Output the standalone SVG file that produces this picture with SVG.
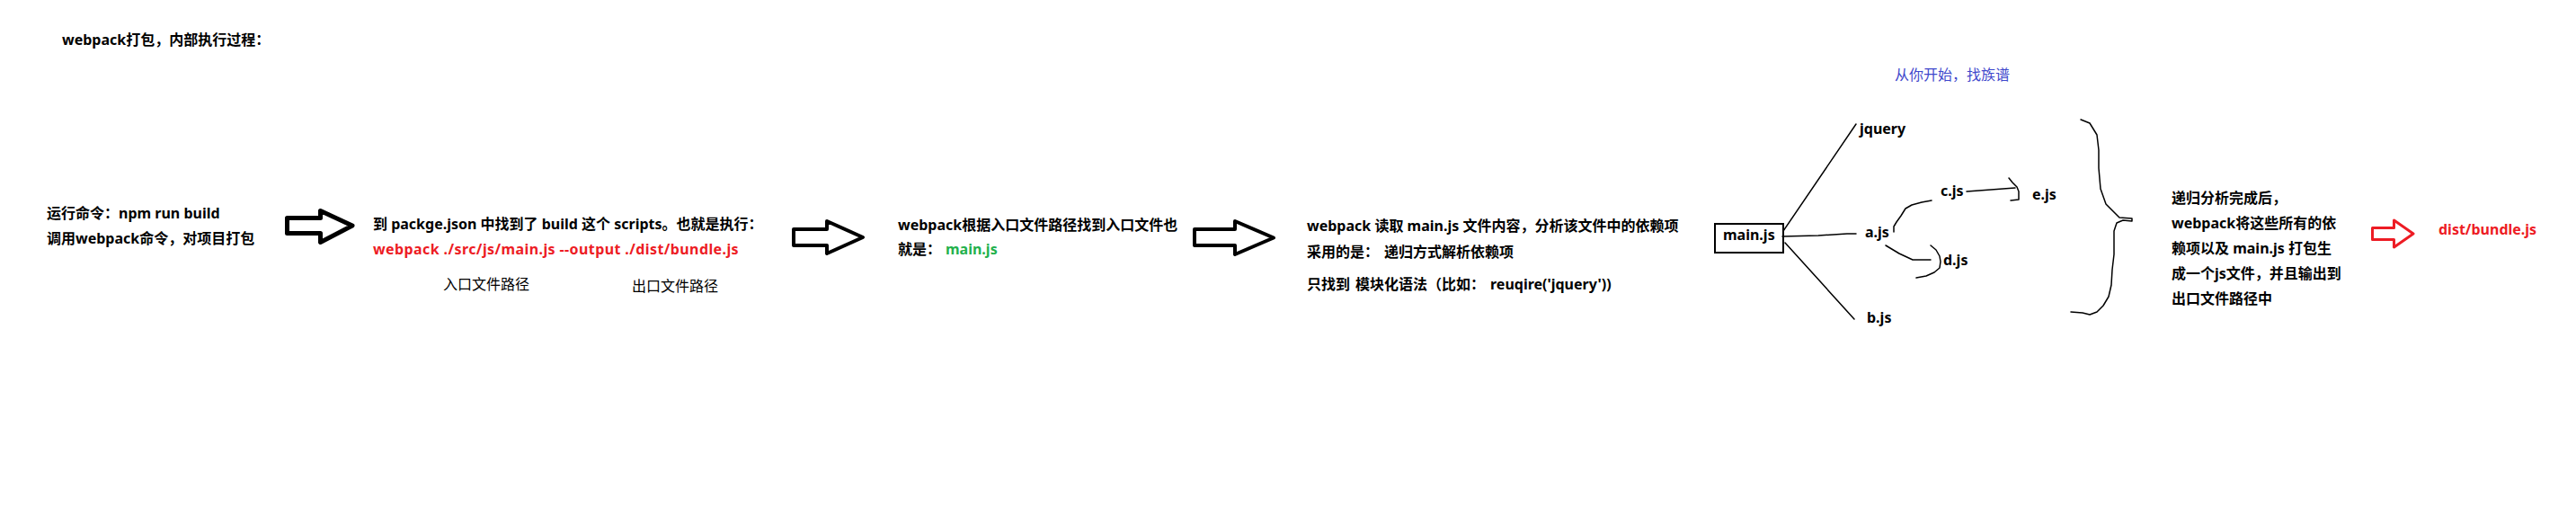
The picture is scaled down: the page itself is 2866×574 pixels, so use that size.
<svg xmlns="http://www.w3.org/2000/svg" width="2866" height="574" viewBox="0 0 2866 574">
<style>
.t{font-family:"Noto Sans","Noto Sans CJK SC",sans-serif;font-size:16px;font-weight:bold;fill:#000}
.n{font-weight:normal}
.red{fill:#ED1C24}
.green{fill:#22B14C}
.blue{fill:#3F48CC}
.arr{fill:#fff;stroke:#000;stroke-linejoin:round}
.ln{fill:none;stroke:#000;stroke-width:1.5;stroke-linejoin:round;stroke-linecap:round}
</style>
<rect width="2866" height="574" fill="#fff"/>
<g id="title"><text class="t" x="69" y="50">webpack打包，内部执行过程：</text></g>
<g id="step1">
<text class="t" x="52" y="243">运行命令：npm run build</text>
<text class="t" x="52" y="271">调用webpack命令，对项目打包</text>
</g>
<g id="step2">
<text class="t" x="415" y="255">到 packge.json 中找到了 build 这个 scripts。也就是执行：</text>
<text class="t red" x="415" y="283" letter-spacing="0.4">webpack ./src/js/main.js --output ./dist/bundle.js</text>
<text class="t n" x="493" y="322">入口文件路径</text>
<text class="t n" x="703" y="324">出口文件路径</text>
</g>
<g id="step3">
<text class="t" x="999" y="256">webpack根据入口文件路径找到入口文件也</text>
<text class="t" x="999" y="283">就是：<tspan class="green" x="1052">main.js</tspan></text>
</g>
<g id="step4">
<text class="t" x="1454" y="257">webpack 读取 main.js 文件内容，分析该文件中的依赖项</text>
<text class="t" x="1454" y="286">采用的是：<tspan x="1540">递归方式解析依赖项</tspan></text>
<text class="t" x="1454" y="322">只找到<tspan x="1508">模块化语法（比如：</tspan><tspan x="1658">reuqire('jquery'))</tspan></text>
</g>
<g id="tree-caption"><text class="t n blue" x="2108" y="89">从你开始，找族谱</text></g>
<g id="main-js">
<rect x="1908" y="249" width="76" height="32" fill="none" stroke="#000" stroke-width="2"/>
<text class="t" x="1917" y="267">main.js</text>
</g>
<g id="jquery"><text class="t" x="2069" y="149">jquery</text></g>
<g id="a-js"><text class="t" x="2075" y="264">a.js</text></g>
<g id="b-js"><text class="t" x="2077" y="359">b.js</text></g>
<g id="c-js"><text class="t" x="2159" y="218">c.js</text></g>
<g id="d-js"><text class="t" x="2162" y="295">d.js</text></g>
<g id="e-js"><text class="t" x="2261" y="222">e.js</text></g>
<g id="step5">
<text class="t" x="2416" y="226">递归分析完成后，</text>
<text class="t" x="2416" y="254">webpack将这些所有的依</text>
<text class="t" x="2416" y="282">赖项以及 main.js 打包生</text>
<text class="t" x="2416" y="310">成一个js文件，并且输出到</text>
<text class="t" x="2416" y="338">出口文件路径中</text>
</g>
<g id="output"><text class="t red" x="2713" y="261">dist/bundle.js</text></g>
<g id="connectors">
<path class="arr" stroke-width="5" d="M319.5,242.5 H356.5 V234.5 L392,251 L356.5,269.5 V259.5 H319.5 Z"/>
<path class="arr" stroke-width="4" d="M883,255 H920 V246 L960,264 L920,282 V273 H883 Z"/>
<path class="arr" stroke-width="4" d="M1329,255 H1374 V246 L1417,264.5 L1374,283 V273 H1329 Z"/>
<path class="arr" stroke-width="3" style="stroke:#ED1C24" d="M2639.5,253.5 H2663.5 V245 L2685,260 L2663.5,275 V266.5 H2639.5 Z"/>
<polyline class="ln" points="1984,257 2065,138"/>
<polyline class="ln" points="1983,263 2023,262 2055,260 2065,260"/>
<polyline class="ln" points="1986,270 2063,355"/>
<polyline class="ln" points="2107,258 2107,252 2110,247 2115,240 2120,232 2127,228 2138,225 2149,223"/>
<polyline class="ln" points="2098,273 2113,282 2128,289 2148,289"/>
<polyline class="ln" points="2148,273 2154,278 2158,285 2159,291 2158,298 2152,303 2143,307 2132,309"/>
<polyline class="ln" points="2188,213 2242,209"/>
<polyline class="ln" points="2235,198 2239,203 2244,208 2246,213 2246,222 2237,223"/>
<polyline class="ln" points="2315,133 2325,137 2333,150 2335,167 2335,187 2337,210 2343,227 2358,242 2372,243 2372,246 2362,245 2355,248 2352,257 2352,283 2350,300 2349,317 2346,330 2340,340 2333,347 2325,350 2317,348 2304,347"/>
</g>
</svg>
